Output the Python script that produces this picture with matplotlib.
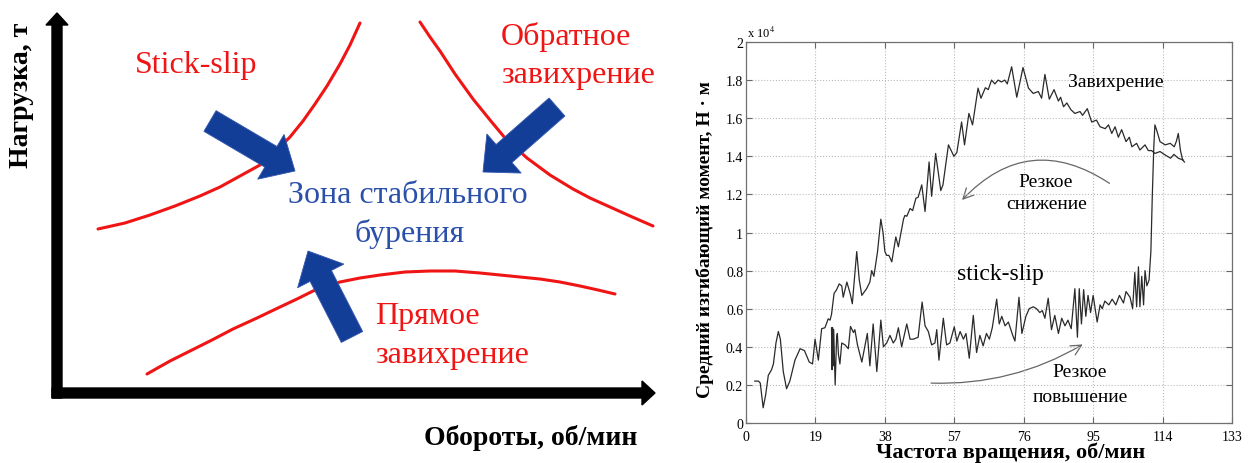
import matplotlib
matplotlib.use('Agg')
import matplotlib.pyplot as plt
from matplotlib.patches import FancyArrow, FancyArrowPatch
import numpy as np

plt.rcParams['font.family'] = ['Liberation Serif', 'DejaVu Serif']
plt.rcParams['mathtext.fontset'] = 'stix'

# ---------------- Left schematic (diagram units, y grows downward) ----------------
stick_x = [98, 125, 150, 175, 200, 220, 240, 260, 275, 290, 303, 315, 327, 340, 350, 360]
stick_y = [230, 224, 216, 207, 197, 188, 177, 166, 153, 138, 122, 105, 87, 65, 46, 24]
backward_x = [420, 430, 440, 455, 473, 490, 505, 527, 550, 573, 590, 610, 630, 653]
backward_y = [23, 38, 52, 75, 100, 121, 139, 159, 176, 190, 199, 208, 217, 227]
forward_x = [147, 170, 190, 212, 233, 257, 280, 297, 313, 327, 340, 360, 380, 405,
             430, 455, 480, 510, 540, 560, 580, 598, 615]
forward_y = [375, 362, 352, 341, 330, 319, 308, 300, 292, 287, 283, 279, 276, 273,
             272, 272, 274, 277, 280, 283, 287, 291, 295]
# blue arrows: tail x, tail y, tip x, tip y
blue_arrows = [(210, 122, 295, 172), (557, 108, 483, 173), (352, 338, 308, 252)]

# ---------------- Right chart data (moment in units of 1e4 N*m) ----------------
upper_rpm = [2.4, 3.4, 3.9, 4.7, 5.4, 6.1, 7.0, 7.5, 8.2, 8.85, 9.4, 10.2, 11.1, 12.0,
             13.4, 14.8, 16.0, 17.3, 18.2, 18.9, 19.8, 20.7, 21.6, 22.5, 23.0, 23.4,
             24.1, 24.8, 25.5, 26.2, 26.6, 27.6, 28.5, 29.1, 30.3, 31.0, 31.7, 33.0,
             33.9, 34.4, 35.0, 36.0, 36.9, 37.5, 38.0, 38.5, 39.1, 39.9, 41.0, 41.7,
             43.1, 43.5, 44.0, 44.9, 45.6, 46.5, 47.1, 48.1, 49.0, 50.1, 50.8, 51.9,
             53.3, 53.9, 55.4, 56.9, 57.7, 59.0, 59.8, 61.0, 62.0, 63.5, 64.3, 65.5,
             66.3, 67.2, 68.1, 69.0, 69.9, 70.8, 71.5, 72.7, 74.1, 75.8, 77.3, 78.6,
             80.0, 80.9, 81.8, 83.0, 84.3, 85.5, 86.1, 86.9, 87.8, 88.9, 90.0, 91.4,
             92.1, 93.4, 94.6, 95.9, 96.9, 98.3, 99.2, 100.1, 101.0, 101.9, 102.8,
             104.0, 104.9, 105.6, 106.9, 107.8, 109.2, 110.1, 111.0, 111.9, 113.3,
             114.7, 116.2, 117.1, 118.3, 119.7]
upper_moment = [0.22, 0.22, 0.21, 0.08, 0.15, 0.25, 0.28, 0.31, 0.42, 0.48, 0.44, 0.27,
                0.18, 0.22, 0.33, 0.39, 0.38, 0.32, 0.31, 0.44, 0.33, 0.495, 0.50, 0.547,
                0.54, 0.57, 0.68, 0.70, 0.73, 0.72, 0.66, 0.74, 0.68, 0.626, 0.90, 0.75,
                0.67, 0.705, 0.74, 0.80, 0.77, 0.90, 1.07, 1.00, 0.90, 0.88, 0.88, 0.846,
                0.977, 0.925, 1.07, 1.09, 1.085, 1.126, 1.115, 1.18, 1.185, 1.25, 1.11,
                1.37, 1.19, 1.415, 1.22, 1.25, 1.46, 1.40, 1.42, 1.58, 1.46, 1.625, 1.565,
                1.758, 1.705, 1.76, 1.75, 1.80, 1.78, 1.80, 1.79, 1.80, 1.78, 1.87, 1.71,
                1.866, 1.758, 1.73, 1.74, 1.705, 1.83, 1.70, 1.75, 1.69, 1.71, 1.66, 1.68,
                1.645, 1.625, 1.635, 1.615, 1.65, 1.58, 1.59, 1.555, 1.545, 1.565, 1.52,
                1.555, 1.50, 1.54, 1.477, 1.50, 1.45, 1.468, 1.433, 1.46, 1.43, 1.43,
                1.415, 1.425, 1.407, 1.39, 1.41, 1.39, 1.38]

lower_rpm = [23.4, 23.55, 23.7, 23.85, 24.0, 24.4, 24.8, 25.0, 25.3, 25.7, 26.2, 27.1,
             28.0, 28.6, 29.4, 29.8, 30.5, 31.7, 32.6, 33.2, 33.9, 34.8, 35.8, 36.9,
             37.6, 38.5, 39.4, 40.3, 41.0, 41.7, 42.6, 44.0, 44.9, 45.8, 47.1, 48.2,
             49.0, 49.9, 50.8, 51.7, 52.2, 52.8, 54.0, 54.9, 55.8, 57.0, 57.7, 58.6,
             59.5, 60.2, 61.1, 62.2, 63.1, 64.0, 64.9, 65.8, 66.6, 67.4, 68.6, 69.3,
             70.0, 70.9, 71.8, 73.0, 73.6, 74.7, 75.5, 76.6, 77.5, 78.6, 79.5, 80.4,
             81.1, 81.8, 82.7, 83.6, 84.5, 85.5, 86.4, 87.3, 88.1, 89.0, 90.0, 90.7,
             91.2, 91.8, 92.4, 93.0, 93.6, 94.3, 95.0, 96.1, 96.9, 97.5, 98.2, 99.3,
             100.2, 101.2, 102.2, 103.3, 104.0, 105.1, 105.8, 106.4, 106.9, 107.4,
             107.8, 108.3, 108.8, 109.2, 109.7, 110.3, 110.8, 111.2, 111.6, 111.9,
             112.5, 113.3, 114.7, 116.1, 117.2, 117.8, 118.3, 118.9, 119.5, 120.0]
lower_moment = [0.50, 0.28, 0.50, 0.30, 0.49, 0.20, 0.45, 0.47, 0.36, 0.31, 0.42, 0.41,
                0.39, 0.507, 0.475, 0.49, 0.41, 0.32, 0.41, 0.47, 0.30, 0.52, 0.27, 0.54,
                0.40, 0.42, 0.46, 0.42, 0.44, 0.50, 0.40, 0.52, 0.44, 0.44, 0.45, 0.635,
                0.51, 0.48, 0.41, 0.42, 0.49, 0.33, 0.55, 0.41, 0.42, 0.505, 0.43, 0.48,
                0.44, 0.47, 0.34, 0.565, 0.37, 0.46, 0.405, 0.47, 0.44, 0.50, 0.65, 0.52,
                0.56, 0.51, 0.53, 0.46, 0.43, 0.66, 0.47, 0.56, 0.60, 0.61, 0.60, 0.58,
                0.59, 0.55, 0.655, 0.49, 0.565, 0.47, 0.55, 0.51, 0.54, 0.495, 0.705, 0.45,
                0.705, 0.52, 0.70, 0.56, 0.67, 0.58, 0.67, 0.53, 0.62, 0.60, 0.64, 0.62,
                0.65, 0.62, 0.67, 0.63, 0.69, 0.66, 0.60, 0.79, 0.61, 0.82, 0.61, 0.77,
                0.62, 0.80, 0.72, 0.75, 0.90, 1.20, 1.45, 1.565, 1.53, 1.477, 1.46, 1.468,
                1.45, 1.48, 1.52, 1.43, 1.38, 1.37]

x_ticks = [0, 19, 38, 57, 76, 95, 114, 133]
y_ticks = [0, 0.2, 0.4, 0.6, 0.8, 1.0, 1.2, 1.4, 1.6, 1.8, 2.0]

RED = '#F01515'
NAVY = '#133E98'
BLUE_TXT = '#2A50AA'

fig = plt.figure(figsize=(12.54, 4.64), dpi=100)

# ---------------- left panel ----------------
ax0 = fig.add_axes([0, 0, 680 / 1254, 1])
ax0.set_xlim(0, 680)
ax0.set_ylim(464, 0)
ax0.axis('off')

ax0.add_patch(FancyArrow(57, 399, 0, -385, width=10, head_width=22, head_length=12,
                         length_includes_head=True, color='black'))
ax0.add_patch(FancyArrow(52, 394, 603, 0, width=10, head_width=24, head_length=13,
                         length_includes_head=True, color='black'))

for xs, ys in [(stick_x, stick_y), (backward_x, backward_y), (forward_x, forward_y)]:
    ax0.plot(xs, ys, color=RED, lw=2.2, solid_capstyle='round', solid_joinstyle='round',
             zorder=2)

for tx, ty, hx, hy in blue_arrows:
    ax0.add_patch(FancyArrow(tx, ty, hx - tx, hy - ty, width=24, head_width=52,
                             head_length=28, length_includes_head=True,
                             facecolor=NAVY, edgecolor='#3558b0', lw=0.6, zorder=3))

fs = 23
ax0.text(196, 65, 'Stick-slip', color=RED, fontsize=fs, ha='center', va='center')
ax0.text(501, 37, 'Обратное', color=RED, fontsize=fs, ha='left', va='center')
ax0.text(501, 75, 'завихрение', color=RED, fontsize=fs, ha='left', va='center')
ax0.text(408, 196, 'Зона стабильного', color=BLUE_TXT, fontsize=fs, ha='center', va='center')
ax0.text(410, 234, 'бурения', color=BLUE_TXT, fontsize=fs, ha='center', va='center')
ax0.text(375, 317, 'Прямое', color=RED, fontsize=fs, ha='left', va='center')
ax0.text(375, 356, 'завихрение', color=RED, fontsize=fs, ha='left', va='center')
ax0.text(531, 438, 'Обороты, об/мин', color='black', fontsize=20, fontweight='bold',
         ha='center', va='center')
ax0.text(22, 95, 'Нагрузка, т', color='black', fontsize=20, fontweight='bold',
         ha='center', va='center', rotation=90)

# ---------------- right panel ----------------
ax = fig.add_axes([746 / 1254, 1 - 424 / 464, 486 / 1254, 381 / 464])
ax.plot(upper_rpm, upper_moment, color='#2a2a2a', lw=0.9)
ax.plot(lower_rpm, lower_moment, color='#2a2a2a', lw=0.9)
ax.set_xlim(0, 133)
ax.set_ylim(0, 2)
ax.set_xticks(x_ticks)
ax.set_yticks(y_ticks)
ax.set_yticklabels(['%g' % v for v in y_ticks])
ax.tick_params(direction='in', top=True, right=True, length=4, width=0.8,
               color='#666666', labelsize=10)
ax.tick_params(axis='x', pad=5)
ax.tick_params(axis='y', pad=2)
ax.grid(True, linestyle=':', color='#bbbbbb', linewidth=0.8)
for s in ax.spines.values():
    s.set_color('#707070')
    s.set_linewidth(0.9)

ax.text(0.003, 1.006, r'x 10$^4$', transform=ax.transAxes, fontsize=9, va='bottom', ha='left')

ax.set_ylabel('Средний изгибающий момент, Н · м', fontsize=14, fontweight='bold', va='center')
ax.yaxis.set_label_coords(-0.084, 0.483)
ax.set_xlabel('Частота вращения, об/мин', fontsize=16, fontweight='bold', va='center')
ax.xaxis.set_label_coords(0.545, -0.076)

ax.text(101.3, 1.795, 'Завихрение', fontsize=14, ha='center', va='center')
ax.text(82.1, 1.27, 'Резкое', fontsize=14, ha='center', va='center')
ax.text(82.3, 1.15, 'снижение', fontsize=14, ha='center', va='center')
ax.text(69.5, 0.784, 'stick-slip', fontsize=17, ha='center', va='center')
ax.text(91.2, 0.27, 'Резкое', fontsize=14, ha='center', va='center')
ax.text(91.5, 0.14, 'повышение', fontsize=14, ha='center', va='center')

ax.add_patch(FancyArrowPatch((100.1, 1.25), (58.6, 1.16), connectionstyle='arc3,rad=0.43',
                             arrowstyle='->,head_length=0.5,head_width=0.25',
                             mutation_scale=15, color='#666666', lw=0.9))
ax.add_patch(FancyArrowPatch((49.9, 0.21), (92.8, 0.42), connectionstyle='arc3,rad=0.15',
                             arrowstyle='->,head_length=0.5,head_width=0.25',
                             mutation_scale=15, color='#666666', lw=0.9))

fig.savefig('out.png', dpi=100)
